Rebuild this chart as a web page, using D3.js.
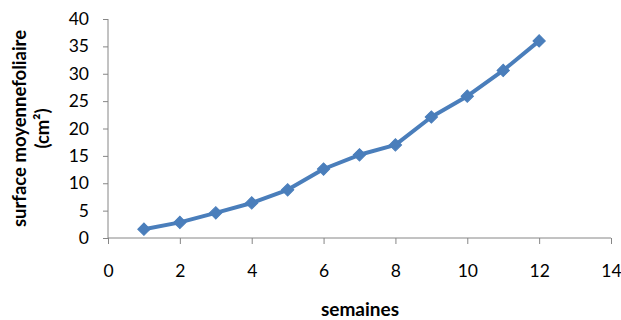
<!DOCTYPE html>
<html>
<head>
<meta charset="utf-8">
<script src="https://cdn.jsdelivr.net/npm/d3@7"></script>
<style>
  html, body { margin: 0; padding: 0; background: #fff; }
  svg text { font-family: Lato, "Open Sans", sans-serif; fill: #000; }
</style>
</head>
<body>
<svg id="chart" width="621" height="320"></svg>
<script>
// Weekly mean leaf area
const weeks = [1, 2, 3, 4, 5, 6, 7, 8, 9, 10, 11, 12];
const leafArea = [1.6, 2.85, 4.6, 6.4, 8.8, 12.6, 15.2, 17.0, 22.1, 25.9, 30.6, 36.0];
const xTicks = [0, 2, 4, 6, 8, 10, 12, 14];
const yTicks = [0, 5, 10, 15, 20, 25, 30, 35, 40];
const xTitle = "semaines";
const yTitleLines = ["surface moyennefoliaire", "(cm²)"];

const svg = d3.select("#chart");
const plot = { left: 108, right: 611, top: 19, bottom: 238 };

const x = d3.scaleLinear().domain([0, 14]).range([plot.left, plot.right]);
const y = d3.scaleLinear().domain([0, 40]).range([plot.bottom, plot.top]);

const axisColor = "#868686";
const blue = "#4a7ebb";
const tickFont = 17.5;

// Y axis
const yAxis = svg.append("g")
  .attr("transform", `translate(${plot.left},0)`)
  .call(d3.axisLeft(y).tickValues(yTicks).tickSize(5).tickPadding(14));
// X axis
const xAxis = svg.append("g")
  .attr("transform", `translate(0,${y(0)})`)
  .call(d3.axisBottom(x).tickValues(xTicks).tickSize(6).tickPadding(21));

[yAxis, xAxis].forEach(g => {
  g.select(".domain").attr("stroke", axisColor).attr("stroke-width", 1);
  g.selectAll(".tick line").attr("stroke", axisColor);
  g.selectAll(".tick text").attr("font-size", tickFont).attr("fill", "#000")
    .style("font-family", "Lato, 'Open Sans', sans-serif");
});
// plain axis lines without end caps
yAxis.select(".domain").attr("d", `M0,${y(40)}V${y(0)}`);
xAxis.select(".domain").attr("d", `M${x(0)},0H${x(14)}`);

// Series line
const line = d3.line().x((d, i) => x(weeks[i])).y(d => y(d));
svg.append("path")
  .datum(leafArea)
  .attr("fill", "none")
  .attr("stroke", blue)
  .attr("stroke-width", 4)
  .attr("stroke-linejoin", "round")
  .attr("d", line);

// Diamond markers (rotated squares)
svg.selectAll(".marker")
  .data(leafArea)
  .join("path")
  .attr("class", "marker")
  .attr("d", d3.symbol().type(d3.symbolSquare).size(76))
  .attr("transform", (d, i) => `translate(${x(weeks[i])},${y(d)}) rotate(45)`)
  .attr("fill", blue)
  .attr("stroke", blue)
  .attr("stroke-width", 1);

// Axis titles
svg.append("text")
  .attr("x", 360).attr("y", 316)
  .attr("text-anchor", "middle")
  .attr("font-size", 19).attr("font-weight", "bold")
  .text(xTitle);

const yt = svg.append("text")
  .attr("transform", "translate(26,128.5) rotate(-90)")
  .attr("text-anchor", "middle")
  .attr("font-size", 18.5).attr("font-weight", "bold");
yTitleLines.forEach((t, i) => {
  yt.append("tspan").attr("x", 0).attr("dy", i === 0 ? 0 : 23).text(t);
});
</script>
</body>
</html>
